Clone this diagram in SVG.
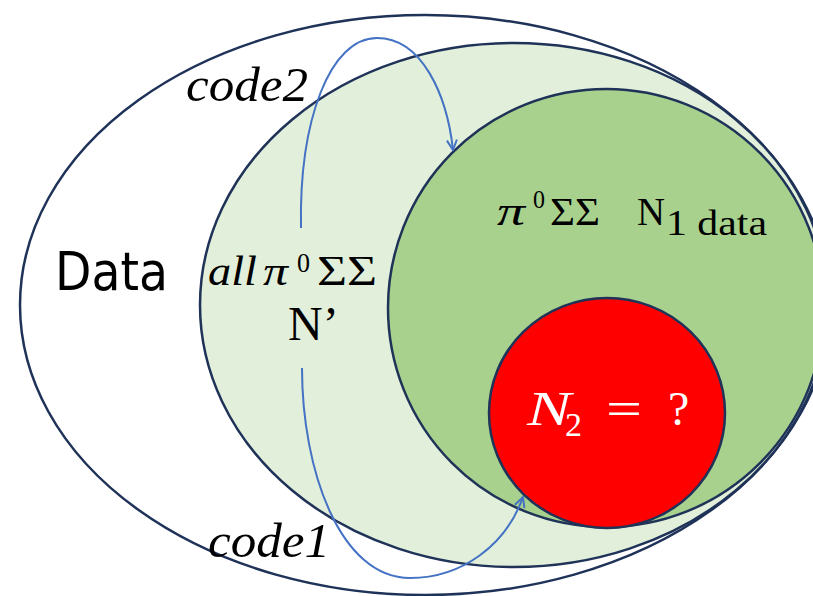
<svg xmlns="http://www.w3.org/2000/svg" width="813" height="596" viewBox="0 0 813 596">
<defs>
<marker id="arr" viewBox="0 0 12 12" refX="11" refY="6" markerWidth="12" markerHeight="12" markerUnits="userSpaceOnUse" orient="auto">
<path d="M1,1 L11,6 L1,11" fill="none" stroke="#4472C4" stroke-width="2"/>
</marker>
<style>
.set{stroke:#1F3258;stroke-width:2.5}
.m{font-family:"Liberation Serif","DejaVu Serif",serif;fill:#000}
.it{font-style:italic}
.conn{fill:none;stroke:#4472C4;stroke-width:2;marker-end:url(#arr)}
</style>
</defs>
<rect width="813" height="596" fill="#fff"/>
<g id="data">
<ellipse class="set" cx="425" cy="305" rx="405" ry="290" fill="#fff"/>
<text x="55" y="290" font-family="'DejaVu Sans',sans-serif" font-size="54" fill="#000" textLength="113" lengthAdjust="spacingAndGlyphs">Data</text>
</g>
<g id="all">
<ellipse class="set" cx="514" cy="305" rx="314" ry="262" fill="#E2EFDA"/>
<text class="m" y="285" font-size="42"><tspan class="it" x="208" textLength="49" lengthAdjust="spacingAndGlyphs">all</tspan><tspan class="it" x="263" textLength="25" lengthAdjust="spacingAndGlyphs">π</tspan><tspan x="297" y="272" font-size="28" textLength="13" lengthAdjust="spacingAndGlyphs">0</tspan><tspan x="317" y="285" textLength="60" lengthAdjust="spacingAndGlyphs">ΣΣ</tspan></text>
<text class="m" x="288" y="340" font-size="48">N’</text>
</g>
<g id="n1">
<ellipse class="set" cx="606" cy="308" rx="218" ry="219" fill="#A9D18E"/>
<text class="m" y="225" font-size="40"><tspan class="it" x="497" textLength="28" lengthAdjust="spacingAndGlyphs">π</tspan><tspan x="533" y="208" font-size="26" textLength="12" lengthAdjust="spacingAndGlyphs">0</tspan><tspan x="550" y="225" textLength="50" lengthAdjust="spacingAndGlyphs">ΣΣ</tspan><tspan x="637" textLength="28" lengthAdjust="spacingAndGlyphs">N</tspan><tspan x="666" y="235" font-size="35" textLength="101" lengthAdjust="spacingAndGlyphs">1 data</tspan></text>
</g>
<g id="n2">
<ellipse class="set" cx="607" cy="413" rx="118" ry="115" fill="#FF0000"/>
<text class="m" y="425" font-size="48" style="fill:#fff"><tspan class="it" x="527" textLength="44" lengthAdjust="spacingAndGlyphs">N</tspan><tspan x="565" y="436" font-size="34">2</tspan><tspan x="606" y="425" textLength="36" lengthAdjust="spacingAndGlyphs">=</tspan><tspan x="668">?</tspan></text>
</g>
<g id="labels">
<text class="m it" x="186" y="101" font-size="48" textLength="122" lengthAdjust="spacingAndGlyphs">code2</text>
<text class="m it" x="208" y="557" font-size="48" textLength="122" lengthAdjust="spacingAndGlyphs">code1</text>
</g>
<g id="connectors">
<path class="conn" d="M301 228 C299 120 330 38 377 38 C422 38 447 95 453 150"/>
<path class="conn" d="M302 368 C302 470 340 578 410 578 C462 578 506 545 523 497"/>
</g>
</svg>
